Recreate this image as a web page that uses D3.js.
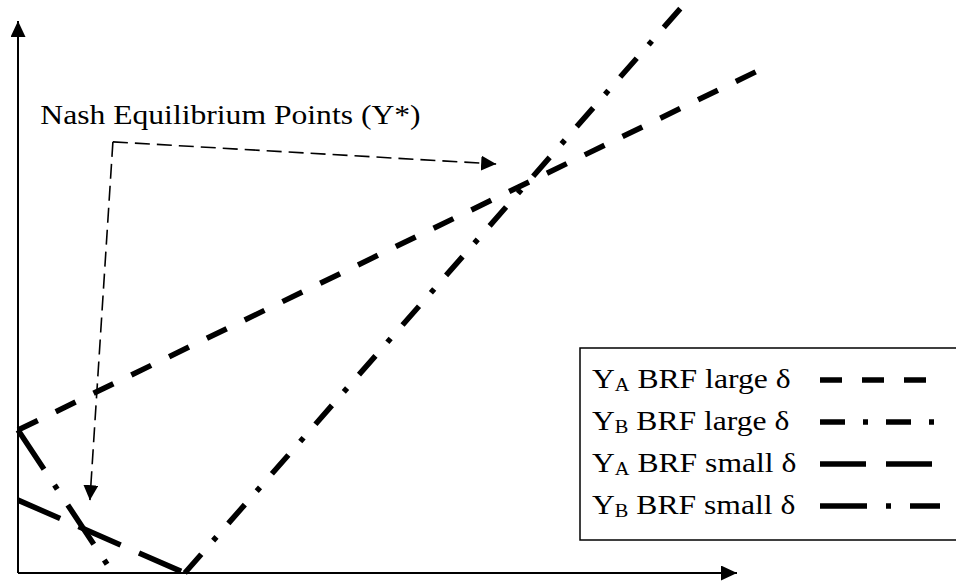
<!DOCTYPE html>
<html>
<head>
<meta charset="utf-8">
<script src="https://cdn.jsdelivr.net/npm/d3@7"></script>
<style>
  html, body { margin: 0; padding: 0; background: #fff; }
  svg { display: block; }
  text { font-family: "Liberation Serif", "Times New Roman", serif; fill: #000; }
</style>
</head>
<body>
<div id="chart"></div>
<script>
// Both axes run 0..100 in made-up units, the figure has no ticks
const seriesKeys = ['yaLarge', 'ybLarge', 'yaSmall', 'ybSmall']
const seriesX = [[0, 103.1], [23.2, 93.3], [0, 23.2], [0, 13.2]]
const seriesY = [[25.9, 91.1], [0, 104.0], [13.2, 0], [25.9, 0]]
const seriesDash = ['22,20', '25,18,5,18', '46,20', '47,19,5,19']

const legendMain = ['Y', 'Y', 'Y', 'Y']
const legendSub = ['A', 'B', 'A', 'B']
const legendRest = ['BRF large δ', 'BRF large δ', 'BRF small δ', 'BRF small δ']

// annotation: tip on large pair, corner, tip on small pair
const noteLabel = 'Nash Equilibrium Points (Y*)'
const noteX = [66.5, 13.2, 10.0]
const noteY = [74.1, 78.1, 13.2]
const noteTextAt = [3.1, 81.3]

const width = 956
const height = 581
const stretch = 1.13 // the source text is a bit wide

const svg = d3.select('#chart').append('svg')
  .attr('width', width)
  .attr('height', height)

const x = d3.scaleLinear().domain([0, 100]).range([18, 737])
const y = d3.scaleLinear().domain([0, 100]).range([573, 21])

const defs = svg.append('defs')
function arrowMarker (id, len, half) {
  defs.append('marker')
    .attr('id', id)
    .attr('markerUnits', 'userSpaceOnUse')
    .attr('viewBox', `0 ${-half} ${len} ${half * 2}`)
    .attr('refX', len)
    .attr('refY', 0)
    .attr('markerWidth', len)
    .attr('markerHeight', half * 2)
    .attr('orient', 'auto')
    .append('path')
    .attr('d', `M0,${-half}L${len},0L0,${half}Z`)
    .attr('fill', '#000')
}
arrowMarker('axisHead', 16, 7.5)
arrowMarker('noteHead', 15, 7.5)

// Axes (plain arrows, no ticks)
svg.append('line')
  .attr('x1', x(0)).attr('y1', y(0))
  .attr('x2', x(100)).attr('y2', y(0))
  .attr('stroke', '#000')
  .attr('stroke-width', 2)
  .attr('marker-end', 'url(#axisHead)')

svg.append('line')
  .attr('x1', x(0)).attr('y1', y(0))
  .attr('x2', x(0)).attr('y2', y(100))
  .attr('stroke', '#000')
  .attr('stroke-width', 2)
  .attr('marker-end', 'url(#axisHead)')

// BRF lines
const line = d3.line().x(d => x(d[0])).y(d => y(d[1]))
const plot = svg.append('g')
seriesKeys.forEach((key, i) => {
  const pts = d3.zip(seriesX[i], seriesY[i])
  plot.append('path')
    .attr('class', 'brf ' + key)
    .attr('d', line(pts))
    .attr('fill', 'none')
    .attr('stroke', '#000')
    .attr('stroke-width', 5.5)
    .attr('stroke-dasharray', seriesDash[i])
})

// Annotation
const note = svg.append('g')
note.append('text')
  .attr('transform', `translate(${x(noteTextAt[0])},${y(noteTextAt[1])}) scale(${stretch},1)`)
  .style('font-size', '28px')
  .text(noteLabel)

const corner = [noteX[1], noteY[1]]
;[0, 2].forEach(j => {
  note.append('path')
    .attr('d', line([corner, [noteX[j], noteY[j]]]))
    .attr('fill', 'none')
    .attr('stroke', '#000')
    .attr('stroke-width', 1.6)
    .attr('stroke-dasharray', '15,7')
    .attr('marker-end', 'url(#noteHead)')
})

// Legend
const legend = svg.append('g').attr('transform', 'translate(580,348)')
legend.append('rect')
  .attr('x', 0)
  .attr('y', 0)
  .attr('width', 400)
  .attr('height', 192)
  .attr('fill', '#fff')
  .attr('stroke', '#000')
  .attr('stroke-width', 1.5)

seriesKeys.forEach((key, i) => {
  const rowY = 32 + i * 42
  const t = legend.append('text')
    .attr('transform', `translate(12,${rowY + 8}) scale(${stretch},1)`)
    .style('font-size', '28px')
  t.append('tspan').text(legendMain[i])
  t.append('tspan').attr('dy', 3).style('font-size', '18px').text(legendSub[i])
  t.append('tspan').attr('dy', -3).text(' ' + legendRest[i])

  legend.append('line')
    .attr('x1', 240).attr('x2', 360)
    .attr('y1', rowY).attr('y2', rowY)
    .attr('stroke', '#000')
    .attr('stroke-width', 5.5)
    .attr('stroke-dasharray', seriesDash[i])
})
</script>
</body>
</html>
